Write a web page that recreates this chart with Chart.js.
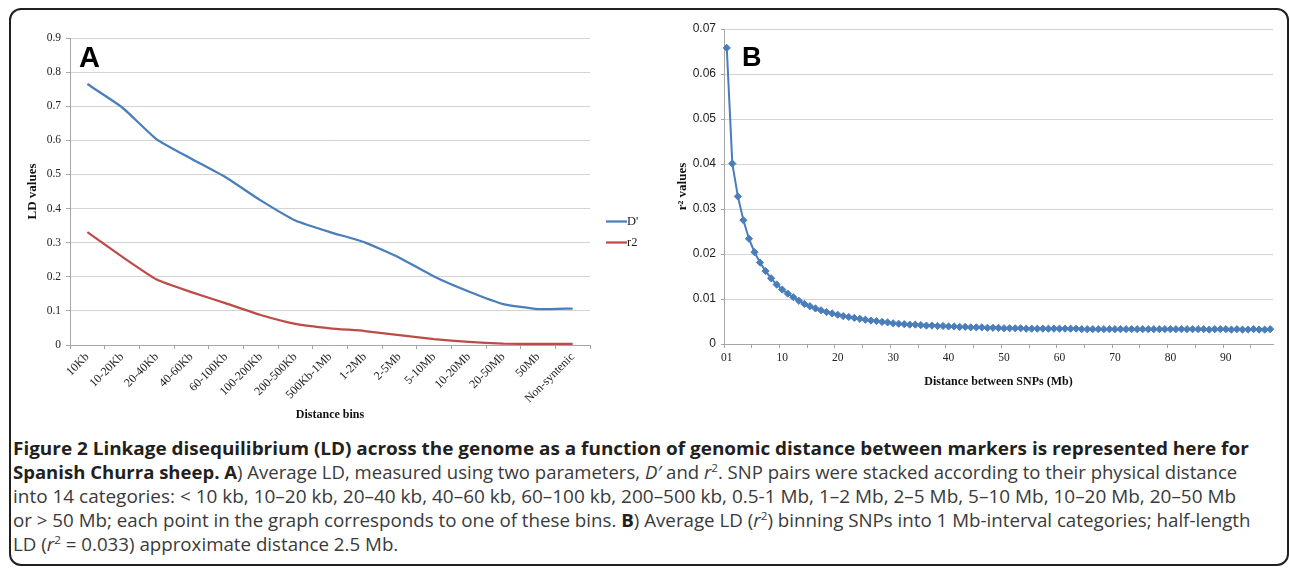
<!DOCTYPE html>
<html>
<head>
<meta charset="utf-8">
<script src="https://cdn.jsdelivr.net/npm/chart.js@4.4.1/dist/chart.umd.min.js"></script>
<style>
html,body{margin:0;padding:0;background:#fff;}
body{width:1290px;height:570px;overflow:hidden;position:relative;}
#frame{position:absolute;left:9px;top:8px;width:1280px;height:558px;border:2px solid #231f20;border-radius:12px;box-sizing:border-box;}
#ca{position:absolute;left:0;top:0;}
#cb{position:absolute;left:650px;top:0;}
.tag{position:absolute;font-family:'Liberation Sans',Arial,sans-serif;font-weight:bold;color:#000;line-height:1;}
.cap{position:absolute;left:13px;white-space:nowrap;font-family:'Open Sans',sans-serif;font-size:17.5px;line-height:24px;height:24px;color:#3a3a3a;transform-origin:0 50%;}
.cap b{color:#231f20;}
.cap sup{font-size:11px;line-height:0;vertical-align:7px;}
</style>
</head>
<body>
<div id="frame"></div>
<canvas id="ca" width="690" height="425"></canvas>
<canvas id="cb" width="640" height="425"></canvas>
<div class="tag" style="left:79px;top:43px;font-size:29px;">A</div>
<div class="tag" style="left:742px;top:44px;font-size:27px;">B</div>

<div class="cap" data-w="1236" style="top:436px;"><b>Figure 2 Linkage disequilibrium (LD) across the genome as a function of genomic distance between markers is represented here for</b></div>
<div class="cap" data-w="1224" style="top:460px;"><b>Spanish Churra sheep. A</b>) Average LD, measured using two parameters, <i>D′</i> and <i>r</i><sup>2</sup>. SNP pairs were stacked according to their physical distance</div>
<div class="cap" data-w="1223" style="top:484px;">into 14 categories: &lt; 10 kb, 10–20 kb, 20–40 kb, 40–60 kb, 60–100 kb, 200–500 kb, 0.5-1 Mb, 1–2 Mb, 2–5 Mb, 5–10 Mb, 10–20 Mb, 20–50 Mb</div>
<div class="cap" data-w="1238" style="top:508px;">or &gt; 50 Mb; each point in the graph corresponds to one of these bins. <b>B</b>) Average LD (<i>r</i><sup>2</sup>) binning SNPs into 1 Mb-interval categories; half-length</div>
<div class="cap" data-w="385" style="top:532px;">LD (<i>r</i><sup>2</sup> = 0.033) approximate distance 2.5 Mb.</div>

<script>
// ---- Panel A data ----
const binLabels = ['10Kb','10-20Kb','20-40Kb','40-60Kb','60-100Kb','100-200Kb','200-500Kb','500Kb-1Mb','1-2Mb','2-5Mb','5-10Mb','10-20Mb','20-50Mb','50Mb','Non-syntenic'];
const dPrimeValues = [0.765,0.697,0.603,0.546,0.491,0.424,0.365,0.331,0.301,0.256,0.201,0.157,0.120,0.105,0.107];
const r2Values = [0.331,0.259,0.192,0.155,0.122,0.088,0.062,0.049,0.041,0.029,0.017,0.009,0.004,0.003,0.003];
const yTicksA = ['0','0.1','0.2','0.3','0.4','0.5','0.6','0.7','0.8','0.9'];

// ---- Panel B data ----
const distLabels = ['01','1','2','3','4','5','6','7','8','9',
 '10','11','12','13','14','15','16','17','18','19',
 '20','21','22','23','24','25','26','27','28','29',
 '30','31','32','33','34','35','36','37','38','39',
 '40','41','42','43','44','45','46','47','48','49',
 '50','51','52','53','54','55','56','57','58','59',
 '60','61','62','63','64','65','66','67','68','69',
 '70','71','72','73','74','75','76','77','78','79',
 '80','81','82','83','84','85','86','87','88','89',
 '90','91','92','93','94','95','96','97','98'];
const r2ByDistance = [0.0658,0.0401,0.0328,0.0275,0.0234,0.0204,0.0181,0.0162,0.0146,0.0132,
 0.0121,0.0112,0.0104,0.0096,0.0089,0.0084,0.0079,0.0075,0.0071,0.0068,
 0.0065,0.0062,0.0060,0.0058,0.0056,0.0054,0.0052,0.0051,0.0049,0.0048,
 0.0046,0.0045,0.0044,0.0043,0.0043,0.0042,0.0041,0.0041,0.0040,0.0040,
 0.0039,0.0039,0.0038,0.0038,0.0037,0.0037,0.0037,0.0036,0.0036,0.0036,
 0.0035,0.0035,0.0035,0.0035,0.0034,0.0034,0.0034,0.0034,0.0034,0.0034,
 0.0034,0.0034,0.0034,0.0034,0.0033,0.0033,0.0033,0.0033,0.0033,0.0033,
 0.0033,0.0033,0.0033,0.0033,0.0033,0.0033,0.0033,0.0033,0.0033,0.0033,
 0.0033,0.0033,0.0033,0.0033,0.0033,0.0033,0.0033,0.0032,0.0033,0.0033,
 0.0033,0.0032,0.0033,0.0032,0.0032,0.0033,0.0032,0.0032,0.0033];
const yTicksB = ['0','0.01','0.02','0.03','0.04','0.05','0.06','0.07'];

const BLUE = '#4A7EBB', RED = '#BE4B48';
const GRID = '#D4D4D4', AXIS = '#A6A6A6';
const serif = 'Liberation Serif';

const legendA = {
  id:'legendA',
  afterDraw(chart){
    const {ctx, chartArea} = chart;
    const x0 = chartArea.right + 16, cy = (chartArea.top + chartArea.bottom) / 2;
    const ys = [cy + 30, cy + 51];
    ctx.save();
    ctx.font = '12.5px ' + serif;
    ctx.textBaseline = 'middle';
    chart.data.datasets.forEach((ds, i) => {
      ctx.strokeStyle = ds.borderColor; ctx.lineWidth = 2.25;
      ctx.beginPath(); ctx.moveTo(x0, ys[i]); ctx.lineTo(x0 + 21, ys[i]); ctx.stroke();
      ctx.fillStyle = '#222';
      ctx.fillText(ds.label, x0 + 21, ys[i]);
    });
    ctx.restore();
  }
};

new Chart(document.getElementById('ca'), {
  type:'line',
  data:{labels:binLabels, datasets:[
    {label:"D'", data:dPrimeValues, borderColor:BLUE, borderWidth:2.25, pointRadius:0, tension:0.15, fill:false},
    {label:'r2', data:r2Values, borderColor:RED, borderWidth:2.25, pointRadius:0, tension:0.15, fill:false}
  ]},
  options:{
    responsive:false, animation:false, devicePixelRatio:1,
    layout:{padding:{top:38,right:100,left:0,bottom:0}},
    plugins:{legend:{display:false}, tooltip:{enabled:false}},
    scales:{
      x:{type:'category', offset:true,
        grid:{display:true, offset:true, drawOnChartArea:false, drawTicks:true, tickLength:4, color:AXIS},
        border:{display:true, color:AXIS, width:1},
        ticks:{autoSkip:false, minRotation:45, maxRotation:45, padding:1, color:'#222', font:{family:serif, size:12}},
        title:{display:true, text:'Distance bins', color:'#111', font:{family:serif, size:12, weight:'bold'}, padding:{top:0, bottom:3}},
        afterFit:s=>{s.height=80;}
      },
      y:{min:0, max:0.9,
        grid:{color:GRID, drawTicks:true, tickLength:4, tickColor:AXIS},
        border:{display:true, color:AXIS, width:1},
        ticks:{stepSize:0.1, padding:5, color:'#222', font:{family:serif, size:11.5},
          callback:(v,i)=>yTicksA[i]},
        title:{display:true, text:'LD values', color:'#111', font:{family:serif, size:13, weight:'bold'}, padding:{top:25, bottom:0}},
        afterFit:s=>{s.width=70;}
      }
    }
  },
  plugins:[legendA]
});

new Chart(document.getElementById('cb'), {
  type:'line',
  data:{labels:distLabels, datasets:[
    {label:'r2', data:r2ByDistance, borderColor:BLUE, backgroundColor:BLUE, borderWidth:2,
     pointStyle:'rectRot', pointRadius:3.6, pointBorderWidth:1, pointBorderColor:BLUE, pointBackgroundColor:BLUE, tension:0, fill:false}
  ]},
  options:{
    responsive:false, animation:false, devicePixelRatio:1,
    layout:{padding:{top:29,right:17,left:0,bottom:0}},
    plugins:{legend:{display:false}, tooltip:{enabled:false}},
    scales:{
      x:{type:'category', offset:true,
        grid:{display:true, offset:true, drawOnChartArea:false, drawTicks:true, tickLength:4,
          color:ctx=>(ctx.index % 5 === 0 ? AXIS : 'rgba(0,0,0,0)')},
        border:{display:true, color:AXIS, width:1},
        ticks:{autoSkip:false, minRotation:0, maxRotation:0, padding:3, color:'#222', font:{family:serif, size:11.5},
          callback:(v,i)=>(i % 10 === 0 ? distLabels[i] : '')},
        title:{display:true, text:'Distance between SNPs (Mb)', color:'#111', font:{family:serif, size:12, weight:'bold'}, padding:{top:0, bottom:36}},
        afterFit:s=>{s.height=81;}
      },
      y:{min:0, max:0.07,
        grid:{color:GRID, drawTicks:true, tickLength:3, tickColor:AXIS},
        border:{display:true, color:AXIS, width:1},
        ticks:{stepSize:0.01, padding:5, color:'#222', font:{family:'Liberation Sans Narrow, Liberation Sans', size:12},
          callback:(v,i)=>yTicksB[i]},
        title:{display:true, text:'r² values', color:'#111', font:{family:serif, size:13, weight:'bold'}, padding:{top:25, bottom:0}},
        afterFit:s=>{s.width=74;}
      }
    }
  }
});

function fitCaptions(){
  document.querySelectorAll('.cap').forEach(el=>{
    el.style.transform='none';
    const w = el.offsetWidth;
    const t = parseFloat(el.dataset.w);
    el.style.transform = 'scaleX(' + (t / w) + ')';
  });
}
fitCaptions();
if (document.fonts && document.fonts.ready) document.fonts.ready.then(fitCaptions);
</script>
</body>
</html>
